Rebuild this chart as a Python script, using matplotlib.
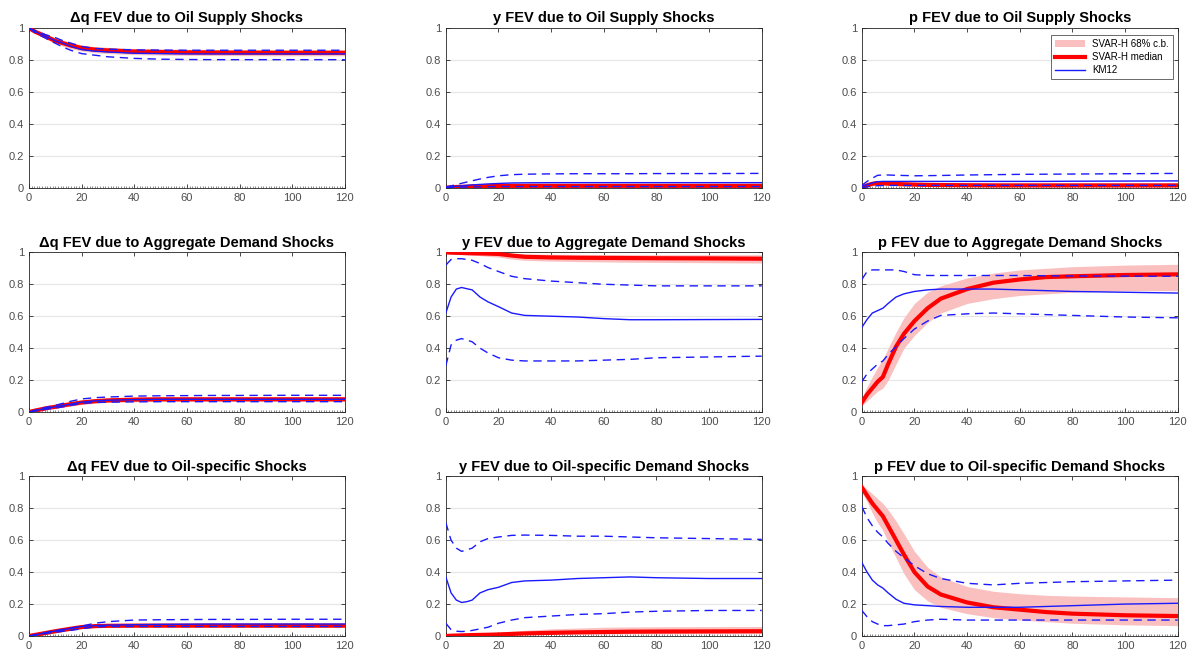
import numpy as np
import matplotlib.pyplot as plt
from matplotlib.patches import Patch
from matplotlib.lines import Line2D

plt.rcParams['font.family'] = ['Liberation Sans', 'DejaVu Sans']

h = [0, 2, 4, 6, 8, 10, 13, 16, 20, 25, 30, 40, 50, 60, 70, 80, 100, 120]

titles = [
    ["Δq FEV due to Oil Supply Shocks", "y FEV due to Oil Supply Shocks", "p FEV due to Oil Supply Shocks"],
    ["Δq FEV due to Aggregate Demand Shocks", "y FEV due to Aggregate Demand Shocks", "p FEV due to Aggregate Demand Shocks"],
    ["Δq FEV due to Oil-specific Shocks", "y FEV due to Oil-specific Demand Shocks", "p FEV due to Oil-specific Demand Shocks"],
]

# ---- row 1: oil supply shocks ----
dq_sup_med = [1.0, 0.98, 0.965, 0.95, 0.935, 0.92, 0.905, 0.89, 0.875, 0.865, 0.86, 0.853, 0.85, 0.848, 0.847, 0.846, 0.845, 0.845]
dq_sup_lo = [1.0, 0.97, 0.952, 0.935, 0.918, 0.902, 0.886, 0.87, 0.856, 0.846, 0.84, 0.834, 0.831, 0.829, 0.828, 0.827, 0.826, 0.826]
dq_sup_hi = [1.0, 0.99, 0.978, 0.965, 0.952, 0.938, 0.924, 0.91, 0.894, 0.884, 0.879, 0.872, 0.869, 0.867, 0.866, 0.865, 0.864, 0.864]
dq_sup_km = [1.0, 0.98, 0.965, 0.95, 0.935, 0.92, 0.905, 0.885, 0.865, 0.855, 0.85, 0.842, 0.84, 0.838, 0.838, 0.838, 0.838, 0.838]
dq_sup_kmlo = [1.0, 0.975, 0.955, 0.94, 0.92, 0.905, 0.88, 0.86, 0.84, 0.83, 0.82, 0.81, 0.805, 0.803, 0.802, 0.802, 0.802, 0.802]
dq_sup_kmhi = [1.0, 0.985, 0.975, 0.96, 0.95, 0.94, 0.92, 0.905, 0.885, 0.872, 0.868, 0.863, 0.862, 0.861, 0.861, 0.861, 0.861, 0.861]

y_sup_med = [0.0, 0.003, 0.005, 0.006, 0.007, 0.008, 0.009, 0.01, 0.011, 0.012, 0.012, 0.012, 0.012, 0.012, 0.012, 0.012, 0.012, 0.012]
y_sup_lo = [0.0, 0.001, 0.002, 0.002, 0.003, 0.003, 0.004, 0.004, 0.004, 0.005, 0.005, 0.005, 0.005, 0.005, 0.005, 0.005, 0.005, 0.005]
y_sup_hi = [0.002, 0.006, 0.01, 0.012, 0.014, 0.016, 0.018, 0.02, 0.022, 0.024, 0.025, 0.025, 0.025, 0.025, 0.025, 0.025, 0.025, 0.025]
y_sup_km = [0.002, 0.006, 0.009, 0.012, 0.015, 0.018, 0.021, 0.024, 0.027, 0.03, 0.031, 0.032, 0.032, 0.032, 0.032, 0.032, 0.032, 0.032]
y_sup_kmlo = [0.0, 0.002, 0.003, 0.004, 0.005, 0.006, 0.006, 0.007, 0.008, 0.008, 0.008, 0.008, 0.008, 0.008, 0.008, 0.008, 0.008, 0.008]
y_sup_kmhi = [0.005, 0.012, 0.02, 0.028, 0.036, 0.044, 0.055, 0.065, 0.075, 0.082, 0.085, 0.087, 0.088, 0.088, 0.088, 0.089, 0.089, 0.09]

p_sup_med = [0.0, 0.015, 0.025, 0.03, 0.028, 0.026, 0.024, 0.022, 0.02, 0.018, 0.017, 0.016, 0.015, 0.015, 0.015, 0.015, 0.015, 0.015]
p_sup_lo = [0.0, 0.007, 0.013, 0.017, 0.016, 0.015, 0.013, 0.012, 0.01, 0.009, 0.008, 0.007, 0.007, 0.007, 0.007, 0.007, 0.007, 0.007]
p_sup_hi = [0.004, 0.025, 0.037, 0.043, 0.041, 0.039, 0.037, 0.035, 0.033, 0.031, 0.03, 0.029, 0.028, 0.028, 0.028, 0.028, 0.028, 0.028]
p_sup_km = [0.01, 0.02, 0.03, 0.038, 0.04, 0.04, 0.04, 0.04, 0.04, 0.04, 0.04, 0.04, 0.04, 0.04, 0.04, 0.041, 0.042, 0.043]
p_sup_kmlo = [0.0, 0.006, 0.01, 0.013, 0.014, 0.015, 0.015, 0.015, 0.015, 0.015, 0.015, 0.015, 0.015, 0.015, 0.015, 0.015, 0.015, 0.015]
p_sup_kmhi = [0.015, 0.04, 0.06, 0.078, 0.08, 0.08, 0.078, 0.077, 0.075, 0.076, 0.077, 0.08, 0.082, 0.084, 0.085, 0.086, 0.088, 0.09]

# ---- row 2: aggregate demand shocks ----
dq_ad_med = [0.0, 0.008, 0.015, 0.022, 0.028, 0.033, 0.042, 0.05, 0.06, 0.068, 0.073, 0.078, 0.08, 0.08, 0.08, 0.08, 0.08, 0.08]
dq_ad_lo = [0.0, 0.005, 0.01, 0.015, 0.02, 0.024, 0.031, 0.038, 0.047, 0.055, 0.06, 0.064, 0.066, 0.066, 0.066, 0.066, 0.066, 0.066]
dq_ad_hi = [0.0, 0.011, 0.02, 0.029, 0.036, 0.042, 0.053, 0.062, 0.073, 0.082, 0.087, 0.092, 0.094, 0.094, 0.094, 0.094, 0.094, 0.094]
dq_ad_km = [0.0, 0.008, 0.015, 0.022, 0.028, 0.033, 0.042, 0.05, 0.062, 0.07, 0.074, 0.078, 0.08, 0.08, 0.08, 0.08, 0.08, 0.08]
dq_ad_kmlo = [0.0, 0.005, 0.01, 0.016, 0.021, 0.025, 0.033, 0.042, 0.055, 0.06, 0.062, 0.064, 0.065, 0.065, 0.065, 0.065, 0.065, 0.065]
dq_ad_kmhi = [0.0, 0.01, 0.02, 0.028, 0.035, 0.042, 0.055, 0.068, 0.082, 0.09, 0.094, 0.1, 0.102, 0.103, 0.104, 0.104, 0.105, 0.105]

y_ad_med = [1.0, 0.998, 0.997, 0.996, 0.995, 0.994, 0.993, 0.992, 0.99, 0.98, 0.972, 0.968, 0.966, 0.965, 0.964, 0.963, 0.962, 0.96]
y_ad_lo = [0.992, 0.99, 0.988, 0.986, 0.984, 0.982, 0.979, 0.975, 0.97, 0.958, 0.95, 0.945, 0.942, 0.94, 0.938, 0.937, 0.935, 0.933]
y_ad_hi = [1.0, 1.0, 1.0, 1.0, 1.0, 1.0, 0.999, 0.998, 0.997, 0.993, 0.99, 0.988, 0.987, 0.986, 0.986, 0.985, 0.985, 0.985]
y_ad_km = [0.62, 0.72, 0.77, 0.78, 0.772, 0.765, 0.72, 0.69, 0.66, 0.62, 0.605, 0.6, 0.595, 0.585, 0.578, 0.578, 0.579, 0.58]
y_ad_kmlo = [0.29, 0.42, 0.45, 0.46, 0.45, 0.44, 0.4, 0.37, 0.34, 0.325, 0.32, 0.32, 0.32, 0.325, 0.33, 0.34, 0.345, 0.35]
y_ad_kmhi = [0.92, 0.955, 0.96, 0.96, 0.955, 0.95, 0.93, 0.905, 0.88, 0.85, 0.835, 0.82, 0.81, 0.8, 0.795, 0.79, 0.79, 0.79]

p_ad_med = [0.06, 0.11, 0.15, 0.19, 0.22, 0.3, 0.41, 0.49, 0.57, 0.65, 0.71, 0.77, 0.81, 0.83, 0.845, 0.85, 0.858, 0.862]
p_ad_lo = [0.04, 0.07, 0.1, 0.13, 0.15, 0.2, 0.3, 0.4, 0.48, 0.56, 0.62, 0.68, 0.71, 0.73, 0.74, 0.75, 0.76, 0.76]
p_ad_hi = [0.09, 0.16, 0.22, 0.28, 0.33, 0.4, 0.5, 0.59, 0.68, 0.75, 0.79, 0.84, 0.87, 0.89, 0.9, 0.91, 0.92, 0.925]
p_ad_km = [0.53, 0.58, 0.62, 0.635, 0.65, 0.68, 0.72, 0.74, 0.755, 0.765, 0.77, 0.77, 0.77, 0.765, 0.76, 0.755, 0.75, 0.745]
p_ad_kmlo = [0.19, 0.24, 0.27, 0.3, 0.32, 0.36, 0.41, 0.46, 0.52, 0.57, 0.605, 0.615, 0.62, 0.615, 0.61, 0.605, 0.595, 0.59]
p_ad_kmhi = [0.83, 0.88, 0.89, 0.89, 0.89, 0.89, 0.89, 0.88, 0.86, 0.855, 0.855, 0.855, 0.855, 0.855, 0.853, 0.852, 0.851, 0.85]

# ---- row 3: oil-specific demand shocks ----
dq_os_med = [0.0, 0.006, 0.012, 0.018, 0.024, 0.03, 0.038, 0.046, 0.056, 0.062, 0.064, 0.065, 0.065, 0.065, 0.065, 0.065, 0.065, 0.065]
dq_os_lo = [0.0, 0.004, 0.008, 0.013, 0.018, 0.023, 0.03, 0.037, 0.047, 0.053, 0.055, 0.056, 0.056, 0.056, 0.056, 0.056, 0.056, 0.056]
dq_os_hi = [0.0, 0.009, 0.016, 0.023, 0.03, 0.037, 0.046, 0.055, 0.066, 0.072, 0.074, 0.075, 0.075, 0.075, 0.075, 0.075, 0.075, 0.075]
dq_os_km = [0.0, 0.006, 0.012, 0.019, 0.026, 0.031, 0.039, 0.048, 0.06, 0.065, 0.068, 0.071, 0.073, 0.074, 0.075, 0.075, 0.075, 0.075]
dq_os_kmlo = [0.0, 0.004, 0.008, 0.014, 0.02, 0.024, 0.03, 0.036, 0.045, 0.058, 0.06, 0.06, 0.06, 0.06, 0.06, 0.06, 0.06, 0.06]
dq_os_kmhi = [0.0, 0.007, 0.014, 0.02, 0.028, 0.034, 0.042, 0.05, 0.062, 0.08, 0.09, 0.1, 0.102, 0.103, 0.104, 0.104, 0.105, 0.105]

y_os_med = [0.0, 0.002, 0.003, 0.004, 0.005, 0.006, 0.007, 0.008, 0.01, 0.013, 0.016, 0.02, 0.023, 0.025, 0.027, 0.028, 0.029, 0.03]
y_os_lo = [0.0, 0.001, 0.002, 0.003, 0.004, 0.005, 0.006, 0.007, 0.008, 0.009, 0.01, 0.011, 0.012, 0.013, 0.014, 0.014, 0.015, 0.015]
y_os_hi = [0.004, 0.006, 0.008, 0.01, 0.012, 0.014, 0.016, 0.018, 0.022, 0.03, 0.036, 0.045, 0.05, 0.055, 0.057, 0.058, 0.059, 0.06]
y_os_km = [0.37, 0.27, 0.225, 0.21, 0.215, 0.225, 0.27, 0.29, 0.305, 0.335, 0.345, 0.35, 0.36, 0.365, 0.37, 0.365, 0.36, 0.36]
y_os_kmlo = [0.08, 0.04, 0.03, 0.028, 0.03, 0.035, 0.045, 0.055, 0.08, 0.1, 0.115, 0.125, 0.135, 0.14, 0.15, 0.155, 0.16, 0.16]
y_os_kmhi = [0.71, 0.6, 0.55, 0.53, 0.54, 0.55, 0.59, 0.61, 0.62, 0.63, 0.632, 0.63, 0.625, 0.625, 0.62, 0.615, 0.61, 0.605]

p_os_med = [0.93, 0.88, 0.83, 0.79, 0.75, 0.69, 0.6, 0.51, 0.4, 0.31, 0.26, 0.21, 0.18, 0.165, 0.15, 0.14, 0.13, 0.125]
p_os_lo = [0.9, 0.84, 0.77, 0.71, 0.66, 0.59, 0.49, 0.39, 0.29, 0.22, 0.18, 0.14, 0.115, 0.1, 0.09, 0.08, 0.07, 0.065]
p_os_hi = [0.95, 0.92, 0.89, 0.86, 0.83, 0.79, 0.72, 0.64, 0.53, 0.43, 0.37, 0.31, 0.28, 0.265, 0.255, 0.25, 0.245, 0.24]
p_os_km = [0.46, 0.4, 0.35, 0.32, 0.3, 0.27, 0.23, 0.205, 0.195, 0.19, 0.185, 0.18, 0.18, 0.18, 0.185, 0.19, 0.2, 0.205]
p_os_kmlo = [0.16, 0.12, 0.09, 0.075, 0.065, 0.065, 0.07, 0.075, 0.09, 0.1, 0.105, 0.1, 0.1, 0.1, 0.1, 0.1, 0.1, 0.1]
p_os_kmhi = [0.81, 0.74, 0.69, 0.65, 0.62, 0.58, 0.53, 0.49, 0.44, 0.39, 0.36, 0.33, 0.32, 0.33, 0.335, 0.34, 0.345, 0.35]

panels = [
    [(dq_sup_med, dq_sup_lo, dq_sup_hi, dq_sup_km, dq_sup_kmlo, dq_sup_kmhi),
     (y_sup_med, y_sup_lo, y_sup_hi, y_sup_km, y_sup_kmlo, y_sup_kmhi),
     (p_sup_med, p_sup_lo, p_sup_hi, p_sup_km, p_sup_kmlo, p_sup_kmhi)],
    [(dq_ad_med, dq_ad_lo, dq_ad_hi, dq_ad_km, dq_ad_kmlo, dq_ad_kmhi),
     (y_ad_med, y_ad_lo, y_ad_hi, y_ad_km, y_ad_kmlo, y_ad_kmhi),
     (p_ad_med, p_ad_lo, p_ad_hi, p_ad_km, p_ad_kmlo, p_ad_kmhi)],
    [(dq_os_med, dq_os_lo, dq_os_hi, dq_os_km, dq_os_kmlo, dq_os_kmhi),
     (y_os_med, y_os_lo, y_os_hi, y_os_km, y_os_kmlo, y_os_kmhi),
     (p_os_med, p_os_lo, p_os_hi, p_os_km, p_os_kmlo, p_os_kmhi)],
]

band_col = '#fac0c0'
red = '#ff0000'
blue = '#1a1aff'
axcol = '#262626'

fig = plt.figure(figsize=(11.92, 6.52), dpi=100)
lefts = [0.0243, 0.374, 0.723]
bottoms = [0.712, 0.368, 0.0245]
w, ht = 0.265, 0.245

for r in range(3):
    for c in range(3):
        ax = fig.add_axes([lefts[c], bottoms[r], w, ht])
        med, lo, hi, km, kmlo, kmhi = panels[r][c]
        ax.fill_between(h, lo, hi, color=band_col, lw=0, zorder=1)
        ax.plot(h, med, color=red, lw=3, zorder=3)
        ax.plot(h, km, color=blue, lw=1, zorder=4)
        ax.plot(h, kmlo, color=blue, lw=1, ls=(0, (6, 4)), zorder=4)
        ax.plot(h, kmhi, color=blue, lw=1, ls=(0, (6, 4)), zorder=4)
        ax.set_xlim(0, 120)
        ax.set_ylim(0, 1)
        ax.set_xticks(np.arange(0, 121, 20))
        ax.set_yticks([0, 0.2, 0.4, 0.6, 0.8, 1])
        ax.set_yticklabels(['0', '0.2', '0.4', '0.6', '0.8', '1'])
        ax.set_xticks(np.arange(0, 121, 1), minor=True)
        ax.yaxis.grid(True, color='#e6e6e6', lw=0.8, zorder=0)
        ax.set_axisbelow(True)
        ax.tick_params(axis='both', which='major', direction='in', length=3,
                       top=True, right=True, labelsize=8, colors=axcol,
                       labelcolor='#4d4d4d', width=0.6)
        ax.tick_params(axis='x', which='minor', direction='in', length=1.5,
                       top=False, bottom=True, colors='#555555', width=0.5)
        for s in ax.spines.values():
            s.set_color(axcol)
            s.set_linewidth(0.6)
        ax.set_title(titles[r][c], fontsize=10.5, fontweight='bold', pad=4)
        if r == 0 and c == 2:
            handles = [Patch(facecolor=band_col, edgecolor='none'),
                       Line2D([], [], color=red, lw=3),
                       Line2D([], [], color=blue, lw=1)]
            leg = ax.legend(handles, ['SVAR-H 68% c.b.', 'SVAR-H median', 'KM12'],
                            loc='upper right', fontsize=7, frameon=True,
                            fancybox=False, borderpad=0.4, labelspacing=0.3,
                            handlelength=3, bbox_to_anchor=(1.0, 0.985))
            leg.get_frame().set_edgecolor(axcol)
            leg.get_frame().set_linewidth(0.6)

fig.savefig('out.png', dpi=100)
